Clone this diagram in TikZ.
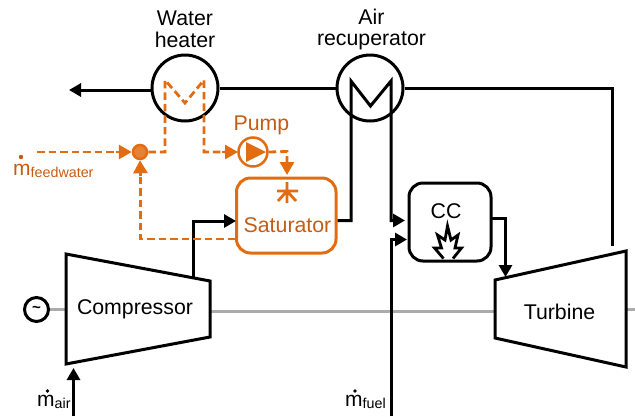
\documentclass[tikz,border=0pt]{standalone}
\usepackage{fontspec}
\setmainfont{Liberation Sans}
\usetikzlibrary{arrows.meta}
\definecolor{orw}{RGB}{226,108,18}
\definecolor{ort}{RGB}{196,92,20}
\definecolor{shaft}{RGB}{170,172,172}
\tikzset{
 x=1pt,y=-1pt,
 blk/.style={draw=black,line width=3pt,line join=miter},
 orl/.style={draw=orw,line width=2.8pt},
 dsh/.style={orl,dash pattern=on 7.5pt off 4pt},
 atip/.style={-{Triangle[length=12pt,width=13pt]}},
 otip/.style={-{Triangle[length=13pt,width=14pt]}},
 lab/.style={inner sep=0pt,font=\fontsize{21.3}{21.5}\selectfont,align=center},
 olab/.style={lab,text=ort},
 hx/.style={circle,draw=black,line width=3pt,minimum size=66pt,inner sep=0pt},
}
\begin{document}
\begin{tikzpicture}
\useasboundingbox (0,0) rectangle (635,416);
% shaft
\node[circle,draw=black,line width=3pt,minimum size=24pt,inner sep=0pt,font=\fontsize{15}{15}\selectfont\bfseries] (gen) at (36.5,309.5) {\char"007E};
\draw[shaft,line width=2.8pt] (gen) -- (66,309.5);
\coordinate (shA) at (210,311.5); \coordinate (shB) at (495,311.5);
\draw[shaft,line width=2.8pt] (shA) -- (shB);
\coordinate (shC) at (626,309.5); \coordinate (shD) at (635,309.5);
\draw[shaft,line width=2.8pt] (shC) -- (shD);
% heat exchangers
\node[hx] (wh) at (185,88) {};
\node[hx] (ar) at (370,88) {};
\node[lab] (whl) at (185,29.5) {Water\\heater};
\node[lab] (arl) at (371.5,29.5) {Air\\recuperator};
% compressor, turbine
\draw[blk] (66,254) -- (210,281) -- (210,337) -- (66,364) -- cycle;
\node[lab] (comp) at (135,309) {Compressor};
\draw[blk] (495,280) -- (626,251) -- (626,367) -- (495,338) -- cycle;
\node[lab] (turb) at (559.5,312) {Turbine};
% CC
\node[draw=black,line width=3pt,rounded corners=14pt,minimum width=82pt,minimum height=78pt,inner sep=0pt] (cc) at (450,222) {};
\node[lab] (ccl) at (446,211) {CC};
\draw[black,line width=2.8pt,line join=miter] (443.5,258.5) -- (434.5,248) -- (441.5,248) -- (437.5,235) -- (445,240) -- (447.5,226) -- (451,240) -- (458,235) -- (455,248) -- (461.5,248) -- (453,258.5);
% Saturator
\node[draw=orw,line width=3pt,rounded corners=14pt,minimum width=99.5pt,minimum height=75pt,inner sep=0pt] (sat) at (286.25,215.5) {};
\node[olab] (satl) at (287.5,225) {Saturator};
\draw[orl] (287,182) -- (287,203) (277,191) -- (298,191) (278,201) -- (287,191) -- (296,201);
% black pipes
\draw[blk] (wh.east) -- (ar.west);
\coordinate (wout) at (69,90);
\draw[blk,atip] (152,90) -- (wout);
\coordinate (c1) at (612,88); \coordinate (c2) at (612,246);
\draw[blk] (ar.east) -- (c1) -- (c2);
\draw[blk] (sat.east |- 0,220.5) -- (351,220.5) -- (351,81) -- (370.5,106) -- (391,81) -- (391,220.5) -- (393,220.5);
\draw[blk,atip] (391,220.5) -- (405,220.5);
\draw[blk,atip] (391,416) -- (391,239.5) -- (407,239.5);
\draw[blk,atip] (491,218) -- (505.5,218) -- (505.5,277);
\draw[blk,atip] (193.5,278) -- (193.5,221) -- (236,221);
\draw[blk,atip] (73.5,416) -- (73.5,368);
% orange circuit
\node[circle,draw=orw,fill=orw!85!white,line width=2.5pt,minimum size=14pt,inner sep=0pt] (jn) at (140,152) {};
\node[circle,draw=orw,fill=white,line width=2.5pt,minimum size=29pt,inner sep=0pt] (pump) at (253,152) {};
\fill[orw] (246,142) -- (266,152) -- (246,162) -- cycle;
\node[olab] (pl) at (261.5,125) {Pump};
\coordinate (fw) at (37,152);
\draw[dsh] (fw) -- (120,152);
\draw[orl,otip] (116,152) -- (jn.west);
\draw[dsh] (jn.east) -- (165,152) -- (165,80) -- (185,103) -- (204,80) -- (204,152) -- (226,152);
\draw[orl,otip] (222,152) -- (238,152);
\draw[dsh] (pump.east) -- (287,151.5) -- (287,163);
\draw[orl,otip] (287,159) -- (287,175);
\draw[dsh] (sat.west |- 0,239) -- (140.5,239) -- (140.5,172);
\draw[orl,otip] (140.5,176) -- (jn.south);
% flow labels
\node[text=ort,inner sep=0pt,anchor=base west] (mfw) at (13,175) {\fontsize{21}{21}\selectfont m\fontsize{14.3}{14.3}\selectfont\raisebox{-2pt}{feedwater}};
\fill[ort] (21,157) circle (2.2pt);
\node[inner sep=0pt,anchor=base west] (ma) at (37,406) {\fontsize{21}{21}\selectfont m\fontsize{14.3}{14.3}\selectfont\raisebox{-2pt}{air}};
\fill[black] (47.5,391) circle (1.8pt);
\node[inner sep=0pt,anchor=base west] (mf) at (345,406) {\fontsize{21}{21}\selectfont m\fontsize{14.3}{14.3}\selectfont\raisebox{-2pt}{fuel}};
\fill[black] (355,391) circle (1.8pt);
\end{tikzpicture}
\end{document}
